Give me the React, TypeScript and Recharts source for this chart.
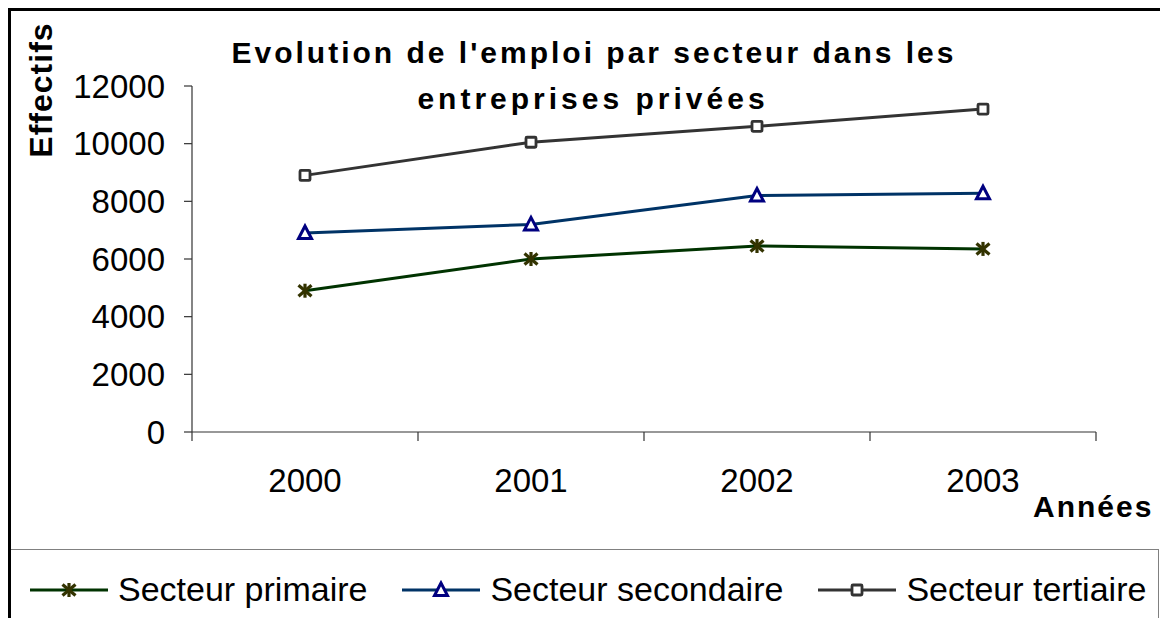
import React from 'react';
import { LineChart, Line, XAxis, YAxis, Legend } from 'recharts';

const categories = [2000, 2001, 2002, 2003];
const primaire = [4900, 6000, 6450, 6350];
const secondaire = [6900, 7200, 8200, 8280];
const tertiaire = [8900, 10050, 10600, 11200];
const yTicks = [0, 2000, 4000, 6000, 8000, 10000, 12000];
const seriesNames = {
  primaire: 'Secteur primaire',
  secondaire: 'Secteur secondaire',
  tertiaire: 'Secteur tertiaire',
};
const titleLines = ["Evolution de l'emploi par secteur dans les", 'entreprises privées'];
const yAxisTitle = 'Effectifs';
const xAxisTitle = 'Années';

const data = categories.map((year, i) => ({
  year,
  primaire: primaire[i],
  secondaire: secondaire[i],
  tertiaire: tertiaire[i],
}));
const boundaryTicks = [...categories.map((c) => c - 0.5), categories[categories.length - 1] + 0.5];
const xDomain = [categories[0] - 0.5, categories[categories.length - 1] + 0.5];

const FONT = '"Liberation Sans", Arial, sans-serif';

const COLORS = {
  primaire: { line: '#003300', marker: '#333300' },
  secondaire: { line: '#003366', marker: '#000080' },
  tertiaire: { line: '#333333', marker: '#333333' },
};

const Star = ({ cx, cy, color }: any) => (
  <g>
    <line x1={cx} y1={cy - 7} x2={cx} y2={cy + 7} stroke={color} strokeWidth={3.2} />
    <line x1={cx - 6.5} y1={cy - 5.5} x2={cx + 6.5} y2={cy + 5.5} stroke={color} strokeWidth={3.2} />
    <line x1={cx - 6.5} y1={cy + 5.5} x2={cx + 6.5} y2={cy - 5.5} stroke={color} strokeWidth={3.2} />
  </g>
);
const Tri = ({ cx, cy, color }: any) => (
  <polygon
    points={`${cx},${cy - 7} ${cx - 6.5},${cy + 5.5} ${cx + 6.5},${cy + 5.5}`}
    fill="#fff"
    stroke={color}
    strokeWidth={3}
    strokeLinejoin="miter"
  />
);
const Sq = ({ cx, cy, color }: any) => (
  <rect x={cx - 5} y={cy - 5} width={10} height={10} rx={1} fill="#fff" stroke={color} strokeWidth={2.8} />
);

const MARKERS: any = { primaire: Star, secondaire: Tri, tertiaire: Sq };

const makeDot = (key: string) => (props: any) => {
  const { cx, cy, index } = props;
  if (cx == null || cy == null) return <g key={`${key}-${index}`} />;
  const M = MARKERS[key];
  return (
    <g key={`${key}-${index}`}>
      <M cx={cx} cy={cy} color={(COLORS as any)[key].marker} />
    </g>
  );
};

const EmptyTick = () => <g />;

const renderLegend = (props: any) => {
  const { payload } = props;
  return (
    <div
      style={{
        display: 'flex',
        alignItems: 'center',
        height: '100%',
        paddingLeft: 19,
        boxSizing: 'border-box',
        fontFamily: FONT,
        fontSize: 34,
        color: '#000',
      }}
    >
      {(payload || []).map((entry: any, i: number) => {
        const key = entry.dataKey as string;
        const M = MARKERS[key];
        return (
          <div
            key={key}
            style={{ display: 'flex', alignItems: 'center', marginLeft: i === 0 ? 0 : 35 }}
          >
            <svg width={78} height={20} style={{ display: 'block' }}>
              <line x1={0} y1={10} x2={78} y2={10} stroke={(COLORS as any)[key].line} strokeWidth={3} />
              <M cx={39} cy={10} color={(COLORS as any)[key].marker} />
            </svg>
            <span style={{ marginLeft: 10, whiteSpace: 'nowrap' }}>{entry.value}</span>
          </div>
        );
      })}
    </div>
  );
};

export default function App() {
  return (
    <div
      style={{
        position: 'relative',
        width: 1160,
        height: 610,
        borderLeft: '3px solid #000',
        borderTop: '3px solid #000',
        boxSizing: 'border-box',
        background: '#fff',
      }}
    >
      <LineChart
        width={1157}
        height={607}
        data={data}
        margin={{ top: 75, right: 72, left: 0, bottom: 184 }}
      >
        <XAxis
          xAxisId="bounds"
          dataKey="year"
          type="number"
          domain={xDomain}
          ticks={boundaryTicks}
          tick={EmptyTick}
          height={1}
          tickSize={9}
          axisLine={{ stroke: '#333', strokeWidth: 1.2 }}
          tickLine={{ stroke: '#333', strokeWidth: 1.2 }}
          interval={0}
        />
        <XAxis
          xAxisId="years"
          dataKey="year"
          type="number"
          domain={xDomain}
          ticks={categories}
          height={1}
          tickSize={0}
          tickMargin={36}
          axisLine={false}
          tickLine={false}
          interval={0}
          tick={{ fill: '#000', fontSize: 33, fontFamily: FONT }}
        />
        <YAxis
          type="number"
          domain={[0, 12000]}
          ticks={yTicks}
          interval={0}
          width={181}
          tickSize={8}
          tickMargin={19}
          axisLine={{ stroke: '#333', strokeWidth: 1.2 }}
          tickLine={{ stroke: '#333', strokeWidth: 1.2 }}
          tick={{ fill: '#000', fontSize: 33, fontFamily: FONT }}
        />
        {(['primaire', 'secondaire', 'tertiaire'] as const).map((key) => (
          <Line
            key={key}
            xAxisId="years"
            dataKey={key}
            name={seriesNames[key]}
            type="linear"
            stroke={COLORS[key].line}
            strokeWidth={3}
            dot={makeDot(key)}
            activeDot={false}
            isAnimationActive={false}
          />
        ))}
        <Legend
          layout="horizontal"
          verticalAlign="middle"
          align="center"
          content={renderLegend}
          wrapperStyle={{
            position: 'absolute',
            left: 0,
            top: 538,
            width: 1148,
            height: 80,
            borderTop: '1.5px solid #808080',
            borderRight: '1.5px solid #808080',
            boxSizing: 'border-box',
            margin: 0,
          }}
        />
      </LineChart>
      <svg
        width={1157}
        height={607}
        style={{ position: 'absolute', left: 0, top: 0, pointerEvents: 'none' }}
      >
        <text
          x={583}
          y={52}
          textAnchor="middle"
          fontFamily={FONT}
          fontWeight="bold"
          fontSize={30}
          letterSpacing={3}
          fill="#000"
        >
          {titleLines[0]}
        </text>
        <text
          x={582}
          y={98}
          textAnchor="middle"
          fontFamily={FONT}
          fontWeight="bold"
          fontSize={30}
          letterSpacing={4}
          fill="#000"
        >
          {titleLines[1]}
        </text>
        <text
          x={41}
          y={79}
          transform="rotate(-90, 41, 79)"
          textAnchor="middle"
          fontFamily={FONT}
          fontWeight="bold"
          fontSize={32}
          letterSpacing={1}
          fill="#000"
        >
          {yAxisTitle}
        </text>
        <text
          x={1022}
          y={506}
          fontFamily={FONT}
          fontWeight="bold"
          fontSize={30}
          letterSpacing={2}
          fill="#000"
        >
          {xAxisTitle}
        </text>
      </svg>
    </div>
  );
}
